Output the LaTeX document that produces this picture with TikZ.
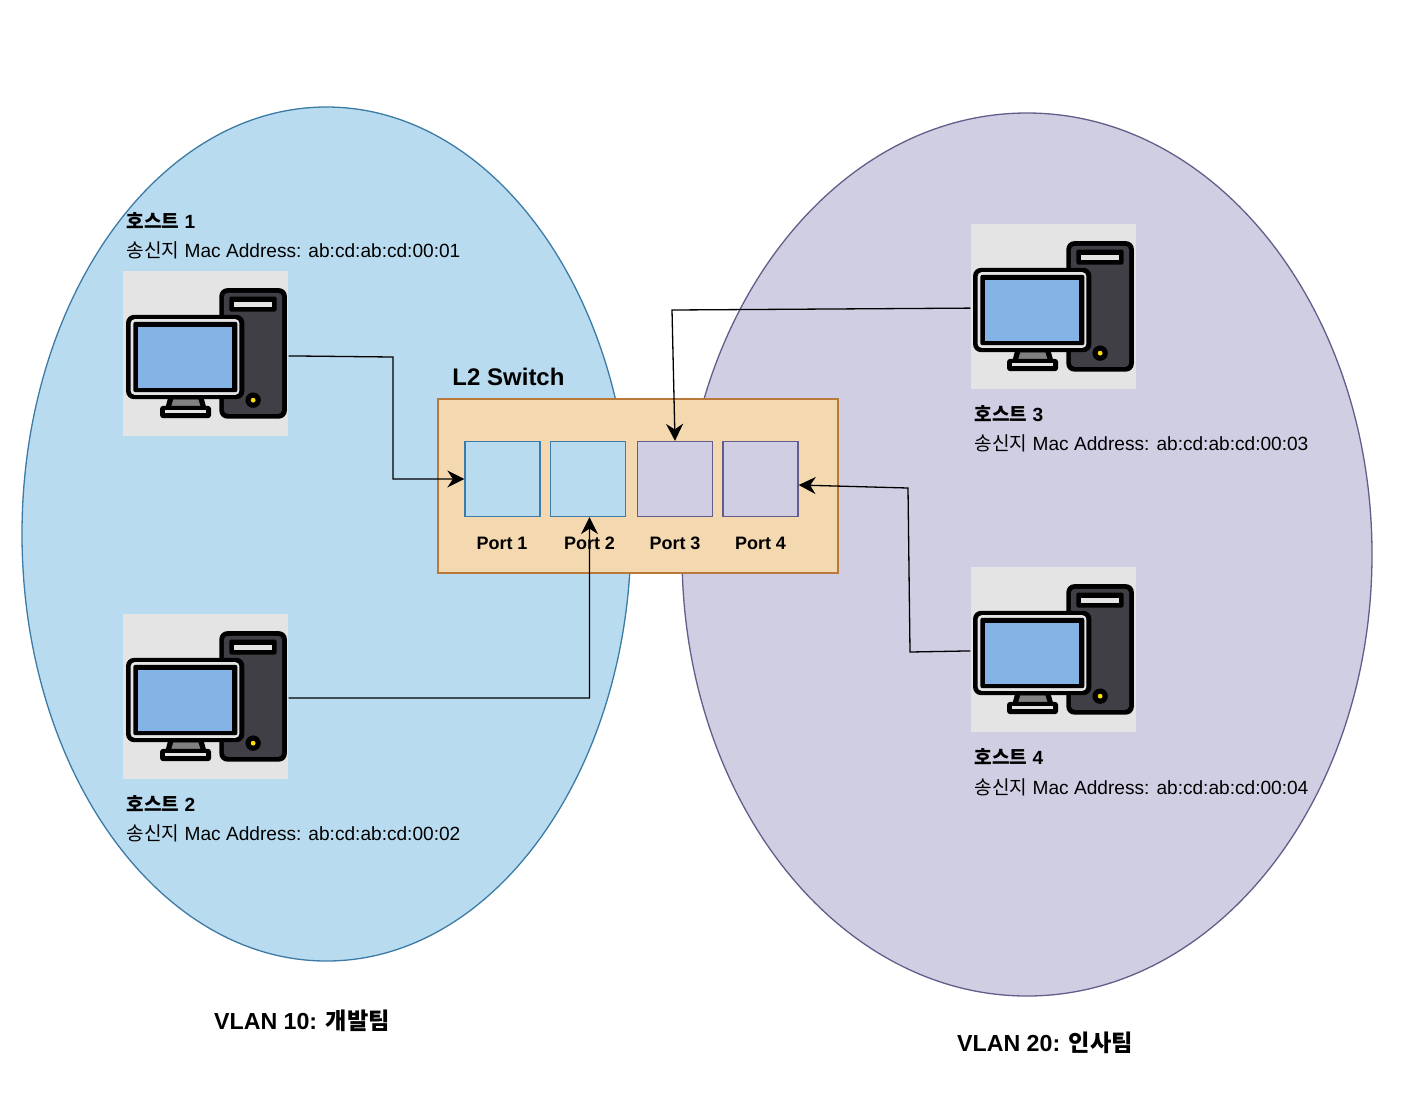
\documentclass[tikz,border=0pt]{standalone}
\usepackage{fontspec}
\setmainfont{Liberation Sans}
\newfontfamily\kr{Noto Sans CJK KR}
\usetikzlibrary{arrows.meta,positioning,shapes.geometric}

\definecolor{vlanblue}{HTML}{B9DBEF}
\definecolor{vlanblueline}{HTML}{3C7BA6}
\definecolor{vlanpurple}{HTML}{D0CEE2}
\definecolor{vlanpurpleline}{HTML}{625D8A}
\definecolor{switchfill}{HTML}{F4D8B0}
\definecolor{switchline}{HTML}{B8793A}
\definecolor{iconback}{HTML}{E4E4E4}
\definecolor{iconscreen}{HTML}{84B4E6}
\definecolor{icontower}{HTML}{403F46}

\tikzset{
  pcicon/.pic={
    % tower
    \fill [black, rounded corners=4pt] (96,17.3) rectangle (163.5,147.8);
    \fill [icontower, rounded corners=2pt] (100.5,22) rectangle (158.8,143);
    \fill [black, rounded corners=1pt] (106,25.7) rectangle (153.2,40.7);
    \fill [iconback] (111,30.7) rectangle (148.2,36.3);
    \fill [black] (129.8,129.3) circle [radius=7.7];
    \fill [yellow!80!orange] (129.8,129.3) circle [radius=2.4];
    % monitor
    \fill [black] (45,126) -- (80,126) -- (83,137) -- (42,137) -- cycle;
    \fill [gray] (50,128.5) -- (75,128.5) -- (77,135) -- (48,135) -- cycle;
    \fill [black, rounded corners=1.5pt] (36.7,135) rectangle (87.7,147.3);
    \fill [iconback] (41.7,139) rectangle (82.7,142.3);
    \fill [black, rounded corners=4pt] (2.7,44) rectangle (121,128.3);
    \fill [iconback, rounded corners=2pt] (7.3,48.3) rectangle (116,124);
    \fill [black, rounded corners=1pt] (10,51) rectangle (114,121.3);
    \fill [iconscreen] (15,56) rectangle (109,116.7);
  }
}

\begin{document}
\begin{tikzpicture}[x=0.5pt, y=-0.5pt, line width=0.65pt]
    \tikzstyle{vlan10} = [ellipse, draw=vlanblueline, fill=vlanblue, inner sep=0pt]
    \tikzstyle{vlan20} = [ellipse, draw=vlanpurpleline, fill=vlanpurple, inner sep=0pt]
    \tikzstyle{switch} = [rectangle, draw=switchline, fill=switchfill, minimum width=200pt, minimum height=87pt]
    \tikzstyle{port10} = [rectangle, draw=vlanblueline, fill=vlanblue, minimum size=37.5pt, inner sep=0pt]
    \tikzstyle{port20} = [rectangle, draw=vlanpurpleline, fill=vlanpurple, minimum size=37.5pt, inner sep=0pt]
    \tikzstyle{host} = [rectangle, fill=iconback, minimum size=82.5pt, inner sep=0pt]
    \tikzstyle{portlabel} = [font=\fontsize{9}{11}\selectfont\bfseries, inner sep=0pt]
    \tikzstyle{hostlabel} = [anchor=west, align=left, inner sep=0pt, font=\fontsize{9.55}{14.6}\selectfont]
    \tikzstyle{title} = [font=\fontsize{12}{14}\selectfont\bfseries, inner sep=0pt]
    \tikzstyle{vlantitle} = [font=\fontsize{11.6}{14}\selectfont\bfseries, inner sep=0pt]
    \tikzstyle{arrow} = [-{Stealth[length=8.5pt, width=8.5pt]}, black]

    \useasboundingbox (0,0) rectangle (1402,1094);

    \node [vlan10, minimum width=304.5pt, minimum height=427pt] (vlan1) at (326.5,534) {};
    \node [vlan20, minimum width=345pt, minimum height=441.5pt] (vlan2) at (1027,554.5) {};

    \node [switch] (switch) at (638,486) {};
    \node [port10] (port1) at (502.5,479) {};
    \node [port10] (port2) at (588,479) {};
    \node [port20] (port3) at (675,479) {};
    \node [port20] (port4) at (760.5,479) {};
    \node [portlabel] (plabel1) at (502,543) {Port 1};
    \node [portlabel] (plabel2) at (589.5,543) {Port 2};
    \node [portlabel] (plabel3) at (675,543) {Port 3};
    \node [portlabel] (plabel4) at (760.5,543) {Port 4};
    \node [title] (switchlabel) at (508.5,377) {L2 Switch};

    \node [host] (host1) at (205.5,353.5) {};
    \node [host] (host2) at (205.5,696.5) {};
    \node [host] (host3) at (1053.5,306.5) {};
    \node [host] (host4) at (1053.5,649.5) {};
    \pic at ([xshift=0.5pt, yshift=-0.25pt]host1.north west) {pcicon};
    \pic at ([xshift=0.5pt, yshift=-0.25pt]host2.north west) {pcicon};
    \pic at ([yshift=-0.25pt]host3.north west) {pcicon};
    \pic at ([yshift=-0.25pt]host4.north west) {pcicon};

    \node [hostlabel] (label1) at (126,235.5) {{\kr\bfseries 호스트} \textbf{1}\\{\kr 송신지} Mac Address: ab:cd:ab:cd:00:01};
    \node [hostlabel] (label2) at (126,818.5) {{\kr\bfseries 호스트} \textbf{2}\\{\kr 송신지} Mac Address: ab:cd:ab:cd:00:02};
    \node [hostlabel] (label3) at (974,429) {{\kr\bfseries 호스트} \textbf{3}\\{\kr 송신지} Mac Address: ab:cd:ab:cd:00:03};
    \node [hostlabel] (label4) at (974,772.3) {{\kr\bfseries 호스트} \textbf{4}\\{\kr 송신지} Mac Address: ab:cd:ab:cd:00:04};

    \node [vlantitle] (vlanlabel1) at (302,1020.5) {VLAN 10: {\kr\bfseries 개발팀}};
    \node [vlantitle] (vlanlabel2) at (1045,1042.5) {VLAN 20: {\kr\bfseries 인사팀}};

    \draw [arrow] ([yshift=-1.2pt]host1.east) -- (393,357) -- (393,479) -- (port1);
    \draw [arrow] ([yshift=-0.7pt]host2.east) -- (589.5,698) -- ([xshift=0.75pt]port2.south);
    \draw [arrow] ([yshift=-0.8pt]host3.west) -- (672,310) -- (port3.north);
    \draw [arrow] ([yshift=-0.7pt]host4.west) -- (910,652) -- (908,488) -- ([yshift=-3pt]port4.east);
\end{tikzpicture}
\end{document}
